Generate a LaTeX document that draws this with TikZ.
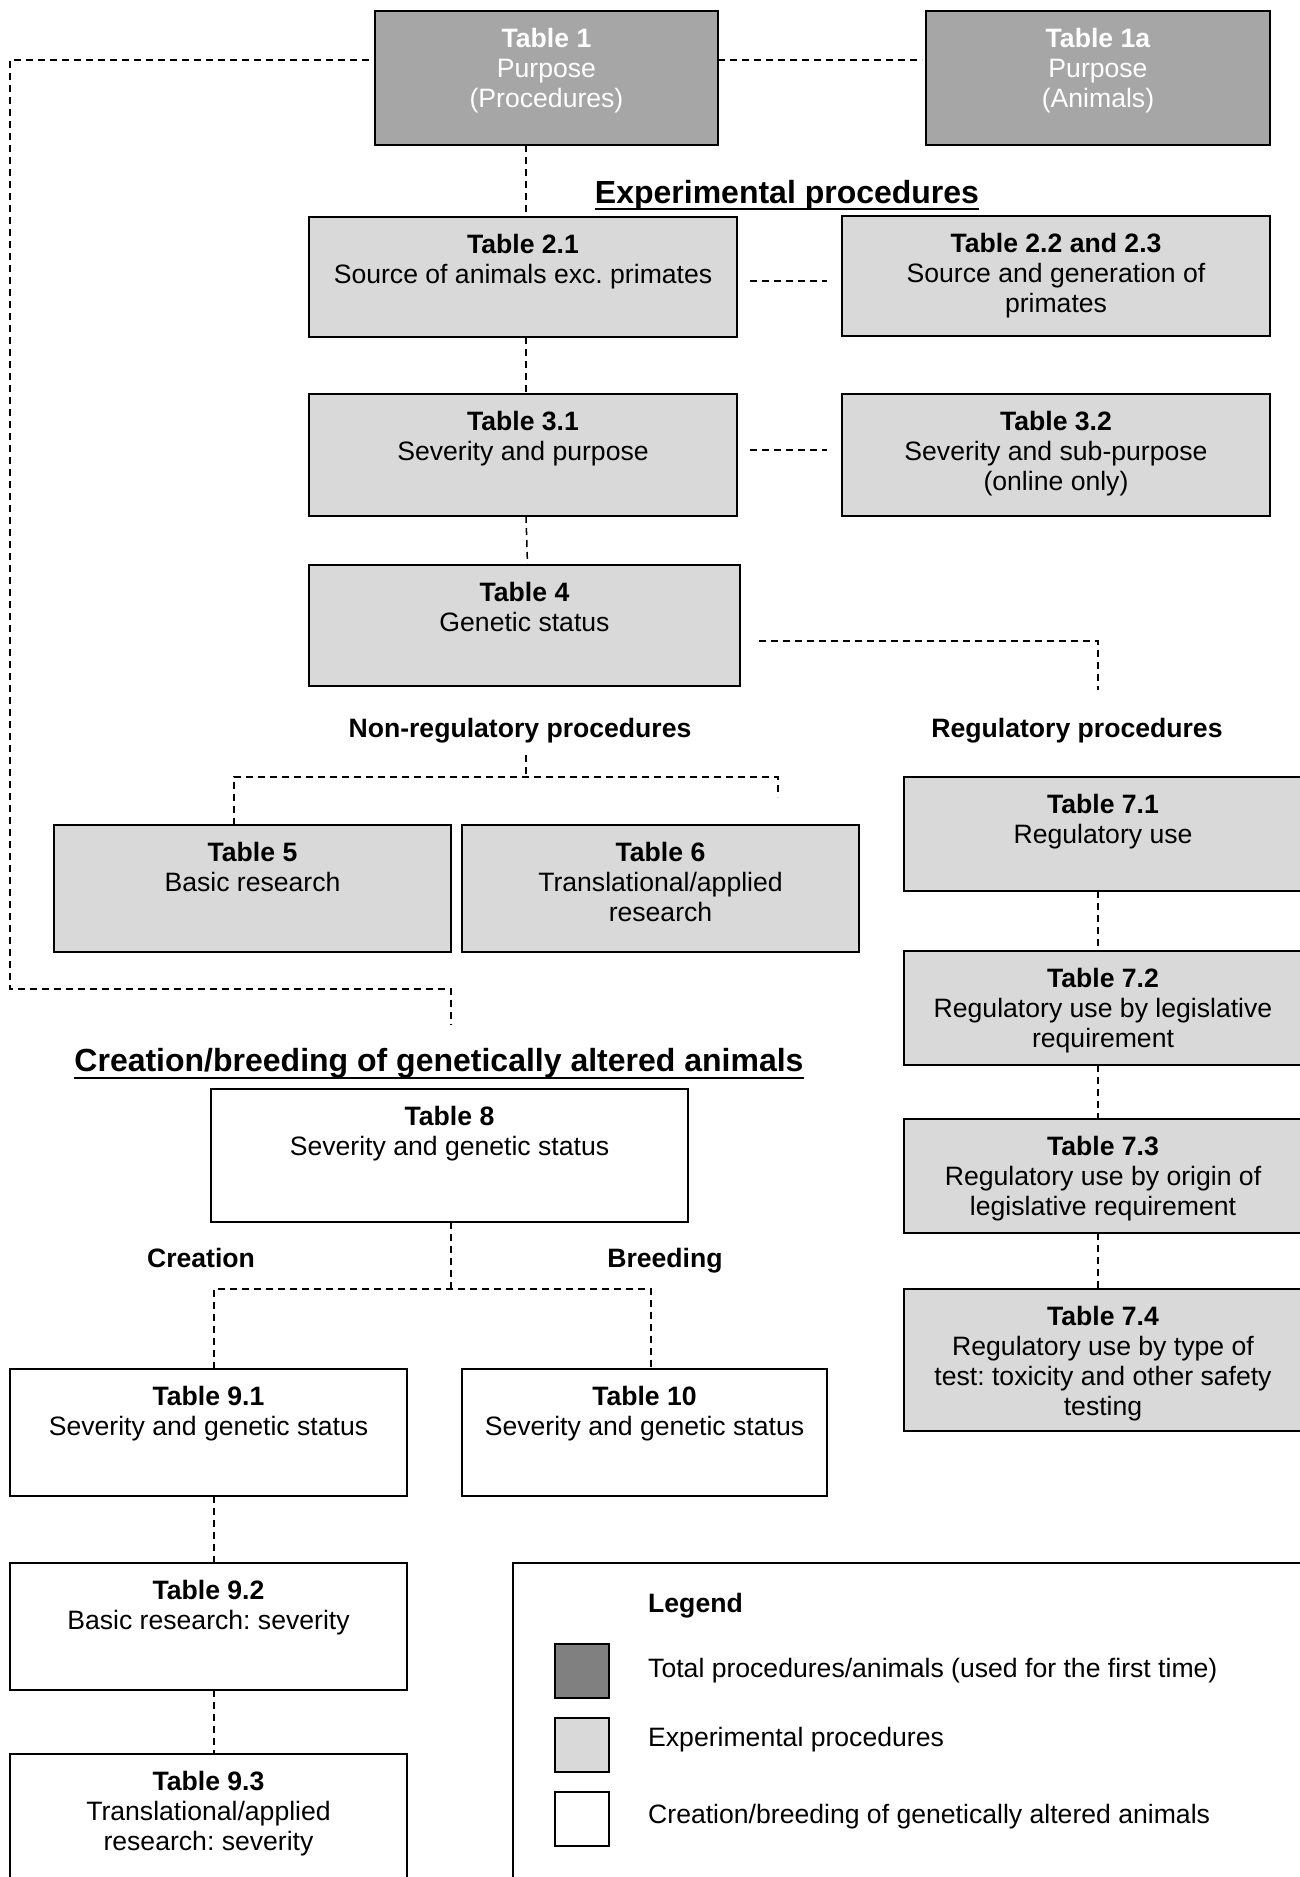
\documentclass[tikz,border=0pt]{standalone}
\usepackage{fontspec}
\setmainfont{Liberation Sans}
\usetikzlibrary{calc}
\frenchspacing
\definecolor{dkfill}{HTML}{A6A6A6}
\definecolor{ltfill}{HTML}{D9D9D9}
\definecolor{swfill}{HTML}{808080}
\newcommand{\tbox}[7]{%
  \pgfmathsetmacro{\tbw}{#5-#3}%
  \pgfmathsetmacro{\tbh}{#6-#4}%
  \node[#1, anchor=north west, inner sep=0pt, outer sep=0pt] (#2) at (#3,#4)
    {\parbox[c][\tbh pt][t]{\tbw pt}{\frenchspacing\centering\vspace*{17.5pt}#7\par}};%
}
\begin{document}
\begin{tikzpicture}[x=1pt,y=-1pt,
  font=\fontsize{26.6}{30}\selectfont,
  conn/.style={line width=1.5pt, dash pattern=on 7pt off 5pt},
  dkbox/.style={draw, line width=2pt, fill=dkfill, text=white},
  ltbox/.style={draw, line width=2pt, fill=ltfill},
  wtbox/.style={draw, line width=2pt, fill=white},
  lbl/.style={anchor=base, inner sep=0pt, font=\fontsize{26.6}{30}\selectfont\bfseries},
  ttl/.style={anchor=base, inner sep=0pt, font=\fontsize{32}{36}\selectfont\bfseries},
  legtxt/.style={anchor=base west, inner sep=0pt},
  swatch/.style={draw, line width=2pt, anchor=north west, minimum width=54pt, minimum height=54pt, inner sep=0pt}]
\useasboundingbox (0,0) rectangle (1300,1877);
\clip (0,0) rectangle (1300,1877);

% boxes
\tbox{dkbox}{t1}{375}{11}{718}{145}{\textbf{Table 1}\\Purpose\\(Procedures)}
\tbox{dkbox}{t1a}{926}{11}{1270}{145}{\textbf{Table 1a}\\Purpose\\(Animals)}
\tbox{ltbox}{t21}{309}{217}{737}{337}{\textbf{Table 2.1}\\Source of animals exc. primates}
\tbox{ltbox}{t223}{842}{216}{1270}{336}{\textbf{Table 2.2 and 2.3}\\Source and generation of\\primates}
\tbox{ltbox}{t31}{309}{394}{737}{516}{\textbf{Table 3.1}\\Severity and purpose}
\tbox{ltbox}{t32}{842}{394}{1270}{516}{\textbf{Table 3.2}\\Severity and sub-purpose\\(online only)}
\tbox{ltbox}{t4}{309}{565}{740}{686}{\textbf{Table 4}\\Genetic status}
\tbox{ltbox}{t5}{54}{825}{451}{952}{\textbf{Table 5}\\Basic research}
\tbox{ltbox}{t6}{462}{825}{859}{952}{\textbf{Table 6}\\Translational/applied\\research}
\tbox{ltbox}{t71}{904}{777}{1302}{891}{\textbf{Table 7.1}\\Regulatory use}
\tbox{ltbox}{t72}{904}{951}{1302}{1065}{\textbf{Table 7.2}\\Regulatory use by legislative\\requirement}
\tbox{ltbox}{t73}{904}{1119}{1302}{1233}{\textbf{Table 7.3}\\Regulatory use by origin of\\legislative requirement}
\tbox{ltbox}{t74}{904}{1289}{1302}{1431}{\textbf{Table 7.4}\\Regulatory use by type of\\test: toxicity and other safety\\testing}
\tbox{wtbox}{t8}{211}{1089}{688}{1222}{\textbf{Table 8}\\Severity and genetic status}
\tbox{wtbox}{t91}{10}{1369}{407}{1496}{\textbf{Table 9.1}\\Severity and genetic status}
\tbox{wtbox}{t10}{462}{1369}{827}{1496}{\textbf{Table 10}\\Severity and genetic status}
\tbox{wtbox}{t92}{10}{1563}{407}{1690}{\textbf{Table 9.2}\\Basic research: severity}
\tbox{wtbox}{t93}{10}{1754}{407}{1892}{\textbf{Table 9.3}\\Translational/applied\\research: severity}

% titles and labels
\node[ttl] (exptitle) at (787,203) {Experimental procedures};
\draw[line width=2.5pt] ([yshift=-6pt]exptitle.base west) -- ([yshift=-6pt]exptitle.base east);
\node[ttl] (gatitle) at (439,1071) {Creation/breeding of genetically altered animals};
\draw[line width=2.5pt] ([yshift=-7pt]gatitle.base west) -- ([yshift=-7pt]gatitle.base east);
\node[lbl] (nrl) at (520,737) {Non-regulatory procedures};
\node[lbl] (rgl) at (1077,737) {Regulatory procedures};
\node[lbl] (crl) at (201,1267) {Creation};
\node[lbl] (brl) at (665,1267) {Breeding};

% coordinates
\coordinate (gm) at (451,1025);
\coordinate (reg) at (1098,690);
\coordinate (nrtop) at (526,755);
\coordinate (nrj) at (526,777);
\coordinate (nrL) at (234,777);
\coordinate (nrR) at (778,777);
\coordinate (gj) at (451,1289);
\coordinate (gL) at (214,1289);
\coordinate (gR) at (651,1289);

% connectors
\draw[conn] ([xshift=-6pt,yshift=-49pt]t1.north west) -| (10,989) -- (451,989) -- (gm);
\draw[conn] ([yshift=-49pt]t1.north east) -- ([xshift=-4pt,yshift=-49pt]t1a.north west);
\draw[conn] ([xshift=3pt]t21.north |- t1.south) -- ([xshift=3pt]t21.north);
\draw[conn] ([xshift=3pt]t21.south) -- ([xshift=3pt]t31.north);
\draw[conn] ([xshift=3pt]t31.south) -- ([xshift=3pt]t4.north);
\draw[conn] ([xshift=13pt,yshift=-4pt]t21.east) -- ([xshift=-15pt,yshift=-5pt]t223.west);
\draw[conn] ([xshift=13pt,yshift=5pt]t31.east) -- ([xshift=-15pt,yshift=5pt]t32.west);
\draw[conn] ([xshift=19pt,yshift=-15.5pt]t4.east) -| (reg);
\draw[conn] (nrtop) -- (nrj);
\draw[conn] (nrL |- t5.north) -- (nrL) -- (nrR) -- ++(0,20);
\draw[conn] ([xshift=-5pt]t71.south) -- ([xshift=-5pt]t72.north);
\draw[conn] ([xshift=-5pt]t72.south) -- ([xshift=-5pt]t73.north);
\draw[conn] ([xshift=-5pt]t73.south) -- ([xshift=-5pt]t74.north);
\draw[conn] (gj |- t8.south) -- (gj);
\draw[conn] (gL |- t91.north) -- (gL) -- (gR) -- (gR |- t10.north);
\draw[conn] (gL |- t91.south) -- (gL |- t92.north);
\draw[conn] (gL |- t92.south) -- (gL |- t93.north);

% legend
\node[draw, line width=2pt, anchor=north west, minimum width=800pt, minimum height=340pt, inner sep=0pt] (legbox) at (512,1562) {};
\node[legtxt, font=\fontsize{26.6}{30}\selectfont\bfseries] (legt) at (648,1612) {Legend};
\node[swatch, fill=swfill] (sw1) at (554,1643) {};
\node[swatch, fill=ltfill] (sw2) at (554,1717) {};
\node[swatch, fill=white] (sw3) at (554,1791) {};
\node[legtxt] (lt1) at (648,1677) {Total procedures/animals (used for the first time)};
\node[legtxt] (lt2) at (648,1746) {Experimental procedures};
\node[legtxt] (lt3) at (648,1823) {Creation/breeding of genetically altered animals};
\end{tikzpicture}
\end{document}
